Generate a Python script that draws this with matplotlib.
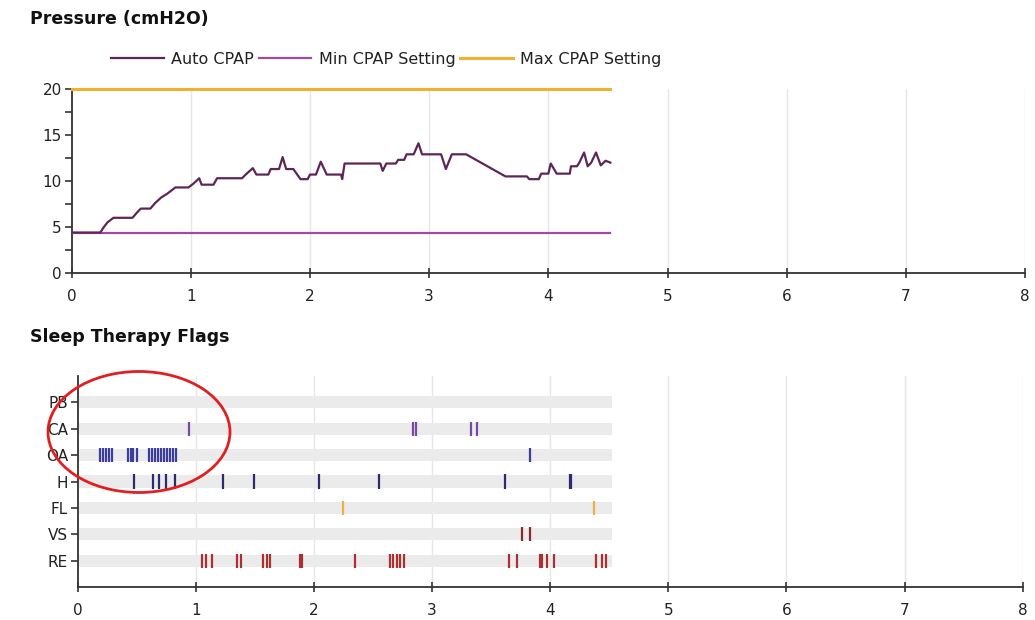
import matplotlib
matplotlib.use("Agg")
import matplotlib.pyplot as plt
from matplotlib.patches import Ellipse

# ---------------- data ----------------
auto_x = [0, 0.24, 0.27, 0.30, 0.35, 0.51, 0.55, 0.58, 0.66, 0.70, 0.75, 0.80, 0.87, 0.98,
          1.02, 1.07, 1.09, 1.19, 1.22, 1.43, 1.46, 1.52, 1.55, 1.65, 1.67, 1.74, 1.77, 1.80,
          1.86, 1.92, 1.98, 2.00, 2.05, 2.09, 2.14, 2.26, 2.27, 2.29, 2.59, 2.61, 2.64, 2.72,
          2.74, 2.79, 2.81, 2.87, 2.91, 2.94, 3.10, 3.14, 3.19, 3.31, 3.64, 3.82, 3.84, 3.92,
          3.94, 4.00, 4.02, 4.07, 4.18, 4.19, 4.24, 4.26, 4.30, 4.33, 4.36, 4.40, 4.44, 4.48, 4.52]
auto_y = [4.4, 4.4, 5.0, 5.5, 6.0, 6.0, 6.6, 7.0, 7.0, 7.6, 8.2, 8.6, 9.3, 9.3,
          9.7, 10.3, 9.6, 9.6, 10.3, 10.3, 10.7, 11.4, 10.7, 10.7, 11.3, 11.3, 12.6, 11.3,
          11.3, 10.2, 10.2, 10.7, 10.7, 12.1, 10.7, 10.7, 10.2, 11.9, 11.9, 11.1, 11.9, 11.9,
          12.3, 12.3, 12.9, 12.9, 14.1, 12.9, 12.9, 11.3, 12.9, 12.9, 10.5, 10.5, 10.2, 10.2,
          10.8, 10.8, 11.9, 10.8, 10.8, 11.6, 11.6, 12.0, 13.1, 11.6, 12.0, 13.1, 11.7, 12.2, 12.0]
session_end = 4.52
min_cpap = 4.3
max_cpap = 20

flag_names = ["PB", "CA", "OA", "H", "FL", "VS", "RE"]
pb_events = []
ca_events = [0.94, 2.84, 2.86, 3.33, 3.38]
oa_events = [0.190, 0.212, 0.237, 0.262, 0.288, 0.423, 0.449, 0.471, 0.500,
             0.606, 0.632, 0.657, 0.682, 0.708, 0.733, 0.759, 0.784, 0.810, 0.832, 3.83]
h_events = [0.48, 0.64, 0.69, 0.75, 0.82, 1.23, 1.49, 2.04, 2.55, 3.62, 4.165, 4.175]
fl_events = [2.25, 4.37]
vs_events = [3.76, 3.83]
re_events = [1.05, 1.09, 1.14, 1.35, 1.38, 1.57, 1.60, 1.63, 1.88, 1.90, 2.35,
             2.64, 2.67, 2.70, 2.73, 2.76, 3.65, 3.72, 3.91, 3.93, 3.97, 4.03, 4.39, 4.44, 4.47]
flag_events = [pb_events, ca_events, oa_events, h_events, fl_events, vs_events, re_events]
flag_colors = ["#7a4a9e", "#7a4a9e", "#3d3d9e", "#2b2b70", "#f0b040", "#8b2a2a", "#a83232"]

x_ticks = [0, 1, 2, 3, 4, 5, 6, 7, 8]
p_ticks = [0, 5, 10, 15, 20]

# ---------------- figure ----------------
fig = plt.figure(figsize=(10.35, 6.2), dpi=100)
fig.patch.set_facecolor("white")
axis_col = "#333333"
grid_col = "#e6e6e6"

def style(ax):
    for s in ["top", "right"]:
        ax.spines[s].set_visible(False)
    for s in ["left", "bottom"]:
        ax.spines[s].set_color(axis_col)
        ax.spines[s].set_linewidth(1.3)
    ax.set_xlim(0, 8)
    ax.set_xticks(x_ticks)
    ax.tick_params(axis="x", direction="inout", length=7, width=1.2, color=axis_col,
                   labelsize=11, labelcolor="#222222", pad=8)
    ax.tick_params(axis="y", direction="out", length=5, width=1.2, color=axis_col,
                   labelsize=11, labelcolor="#222222", pad=2)
    ax.set_axisbelow(True)
    for xv in x_ticks[1:]:
        ax.axvline(xv, color=grid_col, lw=1.0, zorder=0)

# ---- pressure chart ----
ax1 = fig.add_axes([71.7/1035, (620-273)/620, (1025-71.7)/1035, (273-89)/620])
style(ax1)
ax1.set_ylim(0, 20)
ax1.set_yticks(p_ticks)
ax1.set_yticks([2.5, 7.5, 12.5, 17.5], minor=True)
ax1.tick_params(axis="y", which="minor", direction="out", length=5, width=1.2, color=axis_col)
l_max, = ax1.plot([0, session_end], [max_cpap, max_cpap], color="#f0b030", lw=2.2,
                  clip_on=False, zorder=3)
l_min, = ax1.plot([0, session_end], [min_cpap, min_cpap], color="#a04aa0", lw=1.6, zorder=3)
l_auto, = ax1.plot(auto_x, auto_y, color="#5e2656", lw=1.6, zorder=4)

ax1.legend([l_auto, l_min, l_max], ["Auto CPAP", "Min CPAP Setting", "Max CPAP Setting"],
           loc="center", bbox_to_anchor=(0.330, 1.163), ncol=3, frameon=False,
           fontsize=11.5, handlelength=3.3, handletextpad=0.45, columnspacing=0.3,
           labelcolor="#222222")

fig.text(30/1035, 1 - 19/620, "Pressure (cmH2O)", fontsize=12.5, fontweight="bold",
         va="center", ha="left", color="#111111")

# ---- flags chart ----
ax2 = fig.add_axes([77.7/1035, (620-587)/620, (1022.7-77.7)/1035, (587-376)/620])
style(ax2)
n = len(flag_names)
ypos = [n - 1 - i for i in range(n)]
ax2.set_ylim(-1, n)
ax2.set_yticks(ypos)
ax2.set_yticklabels(flag_names)
for yv, evs, col in zip(ypos, flag_events, flag_colors):
    ax2.barh(yv, session_end, height=0.46, left=0, color="#ebebeb", zorder=1)
    if evs:
        ax2.vlines(evs, yv - 0.27, yv + 0.27, color=col, lw=1.6, zorder=3)

fig.text(30/1035, 1 - 337/620, "Sleep Therapy Flags", fontsize=12.5, fontweight="bold",
         va="center", ha="left", color="#111111")

# red annotation ellipse
ell = Ellipse((139/1035, (620-432)/620), 182/1035, 121/620, transform=fig.transFigure,
              fill=False, edgecolor="#e02020", lw=2.0, zorder=10)
fig.patches.append(ell)

fig.savefig("out.png", dpi=100, facecolor="white")
